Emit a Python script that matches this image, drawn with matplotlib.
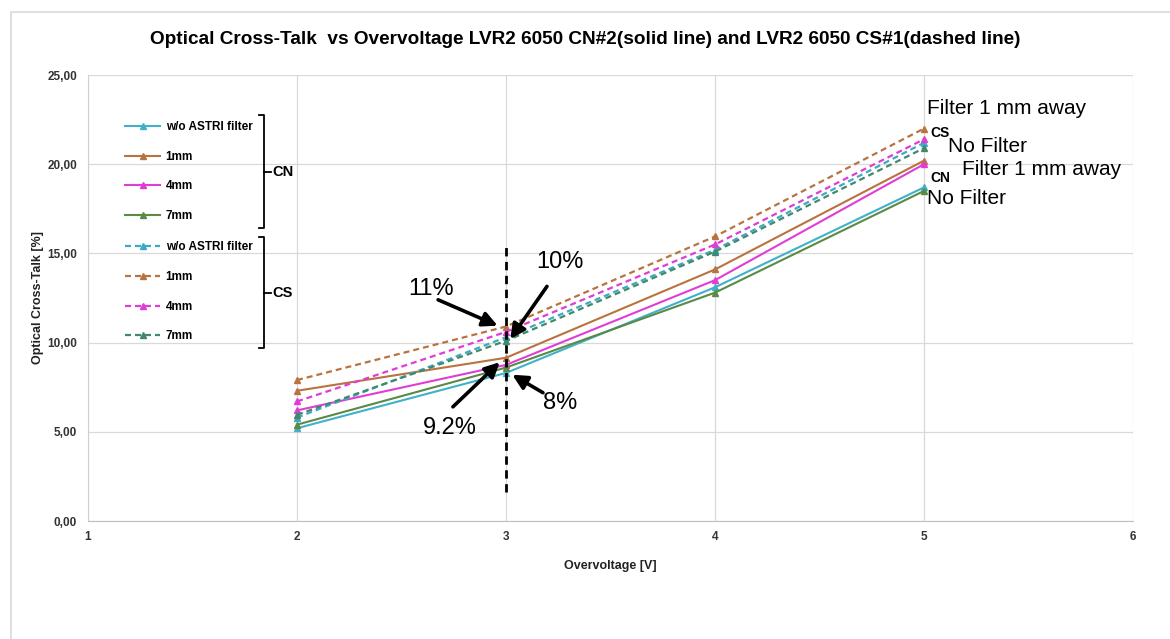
import matplotlib
matplotlib.use("Agg")
import matplotlib.pyplot as plt
from matplotlib.patches import Rectangle

# overvoltage [V]
overvoltage = [2, 3, 4, 5]

# CN#2 (solid lines)
cn_wo = [5.2, 8.3, 13.1, 18.7]
cn_1mm = [7.3, 9.15, 14.1, 20.2]
cn_4mm = [6.2, 8.75, 13.5, 20.0]
cn_7mm = [5.4, 8.6, 12.8, 18.5]

# CS#1 (dashed lines)
cs_wo = [5.8, 10.3, 15.2, 21.2]
cs_1mm = [7.9, 10.9, 15.95, 22.0]
cs_4mm = [6.7, 10.6, 15.5, 21.4]
cs_7mm = [5.95, 10.1, 15.1, 20.9]

labels = ['w/o ASTRI filter', '1mm', '4mm', '7mm']
cn_colors = ['#3fb1c9', '#b8733f', '#e03cd6', '#5a8a45']
cs_colors = ['#3fa9c3', '#b8733f', '#e03cd6', '#3f8a6c']

xticks = [1, 2, 3, 4, 5, 6]
yticks = [0, 5, 10, 15, 20, 25]
ytick_labels = ['0,00', '5,00', '10,00', '15,00', '20,00', '25,00']

# percent annotations: label, point, tail, text position
annot_labels = ['11%', '10%', '9.2%', '8%']
annot_points = [(2.96, 10.95), (3.02, 10.2), (2.97, 8.9), (3.03, 8.2)]
annot_tails = [(2.675, 12.4), (3.196, 13.15), (2.746, 6.4), (3.177, 7.19)]
annot_text = [(2.64, 13.0), (3.258, 14.5), (2.732, 5.22), (3.258, 6.63)]

fig = plt.figure(figsize=(11.7, 6.39), dpi=100)
ax = fig.add_axes([88 / 1170, 1 - 521 / 639, 1045 / 1170, 446 / 639])

dash = (0, (2.7, 1.8))
cn_handles = []
cs_handles = []
for ys, c, lab in zip([cn_wo, cn_1mm, cn_4mm, cn_7mm], cn_colors, labels):
    h, = ax.plot(overvoltage, ys, color=c, lw=1.5, marker='^', ms=4, label=lab)
    cn_handles.append(h)
for ys, c, lab in zip([cs_wo, cs_1mm, cs_4mm, cs_7mm], cs_colors, labels):
    h, = ax.plot(overvoltage, ys, color=c, lw=1.6, ls=dash, marker='^', ms=4, label=lab)
    cs_handles.append(h)

small = dict(family='Liberation Sans', fontweight='bold', fontsize=8.5, color='#333333')
ax.set_xlim(1, 6)
ax.set_ylim(0, 25)
ax.set_xticks(xticks)
ax.set_xticklabels([str(t) for t in xticks], **small)
ax.set_yticks(yticks)
ax.set_yticklabels(ytick_labels, **small)
ax.tick_params(axis='x', length=0, pad=7)
ax.tick_params(axis='y', length=0, pad=8)
ax.grid(True, color='#d9d9d9', lw=0.9)
ax.set_axisbelow(True)
for s in ['top', 'right']:
    ax.spines[s].set_visible(False)
ax.spines['left'].set_color('#d0d0d0')
ax.spines['bottom'].set_color('#bfbfbf')

ax.set_xlabel('Overvoltage [V]', family='Liberation Sans', fontsize=9, fontweight='bold', color='#222222')
ax.set_ylabel('Optical Cross-Talk [%]', family='Liberation Sans', fontsize=9, fontweight='bold', color='#222222')
ax.xaxis.set_label_coords(0.5, (521 - 560) / 446)
ax.yaxis.set_label_coords((44 - 88) / 1045, 0.5)

fig.text(0.5, 1 - 40 / 639, 'Optical Cross-Talk  vs Overvoltage LVR2 6050 CN#2(solid line) and LVR2 6050 CS#1(dashed line)',
         ha='center', va='center', fontsize=13.7, fontweight='bold', family='Liberation Sans')

# legends
leg_kw = dict(frameon=False, handlelength=3.0, handletextpad=0.45,
              labelspacing=1.5, borderpad=0, borderaxespad=0, loc='upper left',
              prop=dict(family='Liberation Sans', weight='bold', size=8.5))
leg1 = ax.legend(handles=cn_handles, bbox_to_anchor=(0.0354, 0.897), **leg_kw)
ax.add_artist(leg1)
leg2 = ax.legend(handles=cs_handles, bbox_to_anchor=(0.0354, 0.627), **leg_kw)

# brackets
def fx(px):
    return (px - 88) / 1045

def fy(py):
    return (521 - py) / 446

for top, bot, mid, name in [(115, 228, 172, 'CN'), (237, 348, 293, 'CS')]:
    ax.plot([fx(259), fx(264), fx(264), fx(259)], [fy(top), fy(top), fy(bot), fy(bot)],
            color='black', lw=1.3, transform=ax.transAxes, clip_on=False)
    ax.plot([fx(264), fx(271)], [fy(mid), fy(mid)], color='black', lw=1.3,
            transform=ax.transAxes, clip_on=False)
    ax.text(fx(272), fy(mid), name, transform=ax.transAxes, fontsize=10.5,
            family='Liberation Sans', fontweight='bold', va='center', ha='left')

# dashed vertical marker at 3 V
ax.plot([3, 3], [1.6, 15.5], color='black', lw=2, ls=(0, (3, 2)))

for lab, pt, tail, tp in zip(annot_labels, annot_points, annot_tails, annot_text):
    ax.annotate('', xy=pt, xytext=tail,
                arrowprops=dict(arrowstyle='-|>', color='black', lw=2.6, mutation_scale=22,
                                shrinkA=0, shrinkB=0))
    ax.text(tp[0], tp[1], lab, ha='center', va='center', fontsize=17, family='Liberation Sans')

# labels at the end of the curves
tf = dict(family='Liberation Sans', fontsize=15, va='center', ha='left')
ax.text(5.014, 23.1, 'Filter 1 mm away', **tf)
ax.text(5.03, 21.75, 'CS', fontsize=10, family='Liberation Sans', fontweight='bold', va='center', ha='left')
ax.text(5.115, 21.0, 'No Filter', **tf)
ax.text(5.18, 19.7, 'Filter 1 mm away', **tf)
ax.text(5.03, 19.2, 'CN', fontsize=10, family='Liberation Sans', fontweight='bold', va='center', ha='left')
ax.text(5.014, 18.1, 'No Filter', **tf)

# chart frame
fig.add_artist(Rectangle((11 / 1170, -0.1), 1.2, 1.1 - 12 / 639, transform=fig.transFigure,
                         fill=False, ec='#d9d9d9', lw=1.2))

fig.savefig('out.png', dpi=100)
